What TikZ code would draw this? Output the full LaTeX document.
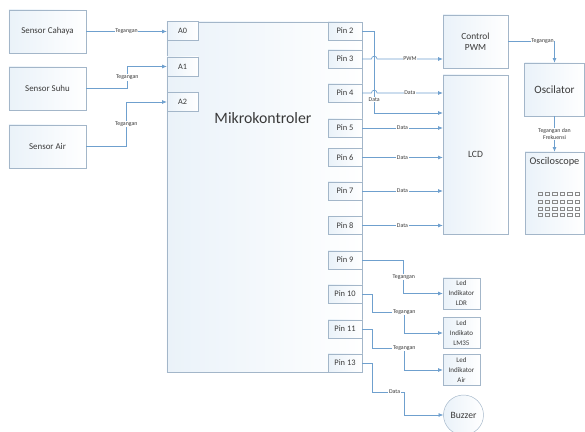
\documentclass[tikz,border=0pt]{standalone}
\usepackage{fontspec}
\setmainfont{Carlito}
\usepackage{tikz}
\usetikzlibrary{shadings}
\usetikzlibrary{positioning}
\usetikzlibrary{calc,arrows.meta}
\definecolor{bd-line}{HTML}{6FA0CE}
\definecolor{bd-edge}{HTML}{A3B6C9}
\definecolor{bd-fill}{HTML}{EAF2F9}
\definecolor{bd-text}{HTML}{3A3A3A}

\begin{document}
\begin{tikzpicture}[
    x=0.03cm, y=-0.03cm,
    font=\fontsize{7.6}{9}\selectfont,
    >={Latex[length=4pt,width=3.5pt]}
  ]

  % Global Style Definitions
  \tikzset{
    box/.style={draw=bd-edge, left color=bd-fill, right color=white, text=bd-text, align=center, inner sep=1pt},
    sensor/.style={box, minimum width=2.31cm, minimum height=1.29cm},
    abox/.style={box, minimum width=0.93cm, minimum height=0.57cm, font=\fontsize{7}{8}\selectfont},
    pinbox/.style={box, minimum width=1.02cm, minimum height=0.54cm, font=\fontsize{7.2}{8}\selectfont},
    ledbox/.style={box, minimum width=1.11cm, minimum height=0.93cm, font=\fontsize{6}{8.5}\selectfont},
    wire/.style={bd-line, line width=0.6pt},
    lbl/.style={fill=white, inner sep=0.6pt, text=bd-text, align=center, font=\fontsize{5}{5.5}\selectfont}
  }

  \useasboundingbox (0,0) rectangle (585,432);

  % Sensors
  \node (cahaya) [sensor] at (47.5,31.5) {Sensor Cahaya};
  \node (suhu) [sensor] at (47.5,88.5) {Sensor Suhu};
  \node (air) [sensor] at (47.5,146.5) {Sensor Air};

  % Microcontroller with its analog and digital pins
  \node (mcu) [box, minimum width=5.85cm, minimum height=10.5cm] at (264.5,197) {};
  \node (mcutext) [text=bd-text, font=\fontsize{13.5}{15}\selectfont] at (263,118) {Mikrokontroler};
  \node (a0) [abox] at (182.5,31) {A0};
  \node (a1) [abox] at (182.5,66.5) {A1};
  \node (a2) [abox] at (182.5,102) {A2};
  \foreach \n/\y in {2/31,3/59,4/93,5/128,6/157.5,7/191,8/225.5,9/260,10/294,11/329,13/363}
    \node (p\n) [pinbox] at (345,\y) {Pin \n};

  % Outputs
  \node (pwm) [box, minimum width=1.95cm, minimum height=1.59cm, font=\fontsize{8}{9.5}\selectfont] at (475.5,41.5) {Control\\PWM};
  \node (lcd) [box, minimum width=1.95cm, minimum height=4.77cm, font=\fontsize{8.2}{9.5}\selectfont] at (475.5,154.5) {LCD};
  \node (osc) [box, minimum width=1.8cm, minimum height=1.59cm, font=\fontsize{9.5}{11}\selectfont] at (554.5,89.5) {Oscilator};
  \node (scope) [box, minimum width=1.77cm, minimum height=2.46cm] at (554.5,193) {};
  \node (scopetitle) [below=1pt of scope.north, text=bd-text, font=\fontsize{8.8}{10}\selectfont] {Osciloscope};
  \foreach \i in {0,...,5}
    \foreach \y in {193.3,201.7,208.3,215}
      \draw[bd-text!60, line width=0.3pt] (537.8+7.4*\i,\y-1.6) rectangle ++(4.4,3.2);
  \node (ledldr) [ledbox] at (461.5,293.5) {Led\\Indikator\\LDR};
  \node (ledlm) [ledbox] at (461.5,333) {Led\\Indikato\\LM35};
  \node (ledair) [ledbox] at (461.5,370) {Led\\Indikator\\Air};
  \node (buzzer) [box, circle, minimum size=1.2cm, font=\fontsize{8.2}{9.5}\selectfont] at (463.5,415) {Buzzer};

  % Sensor connections
  \draw[wire, ->] (cahaya.east) -- node[lbl] {Tegangan} (cahaya.east -| a0.west);
  \draw[wire, ->] (suhu.east) -- ++(41,0) |- node[lbl, pos=0.25] {Tegangan} (a1.west);
  \draw[wire, ->] (air.east) -- ++(40,0) |- node[lbl, pos=0.25] {Tegangan} (a2.west);

  % Pin connections to PWM and LCD
  \coordinate (lcdin) at (lcd.west |- 0,113);
  \draw[wire, ->] (p2.east) -- ++(12,0) |- node[lbl, pos=0.42] {Data} (lcdin);
  \draw[wire, ->] (p3.east) -- ++(9.2,0) arc[start angle=180, end angle=0, radius=2.4pt]
    -- node[lbl] {PWM} (p3.east -| pwm.west);
  \draw[wire, ->] (p4.east) -- ++(9.2,0) arc[start angle=180, end angle=0, radius=2.4pt]
    -- node[lbl] {Data} (p4.east -| lcd.west);
  \draw[wire, ->] (p5.east) -- node[lbl] {Data} (p5.east -| lcd.west);
  \draw[wire, ->] (p6.east) -- node[lbl] {Data} (p6.east -| lcd.west);
  \draw[wire, ->] (p7.east) -- node[lbl] {Data} (p7.east -| lcd.west);
  \draw[wire, ->] (p8.east) -- node[lbl] {Data} (p8.east -| lcd.west);

  % PWM to oscillator to oscilloscope
  \draw[wire, ->] (pwm.east) -| node[lbl, pos=0.37] {Tegangan} (osc.north);
  \draw[wire, ->] (osc.south) -- node[lbl] {Tegangan dan\\Frekuensi} (scope.north);

  % Pin connections to indicators and buzzer
  \draw[wire, ->] (p9.east) -| node[lbl, pos=0.75] {Tegangan} ($(ledldr.west)+(-39,0)$) -- (ledldr.west);
  \draw[wire, ->] (p10.east) -- ++(10,0) |- ++(32,18) node[lbl, pos=1] {Tegangan} |- (ledlm.west);
  \draw[wire, ->] (p11.east) -- ++(10,0) |- ++(32,19) node[lbl, pos=1] {Tegangan} |- (ledair.west);
  \draw[wire, ->] (p13.east) -- ++(10,0) |- ++(32,29) node[lbl, pos=0.85] {Data} |- (buzzer.west);

\end{tikzpicture}
\end{document}
